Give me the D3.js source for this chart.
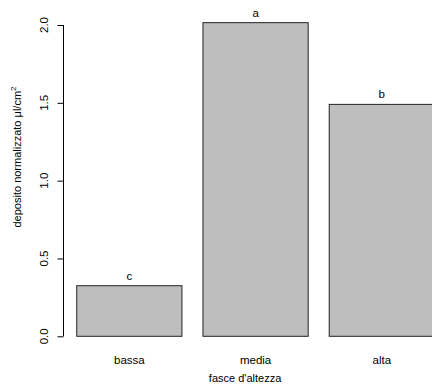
<!DOCTYPE html>
<html><head><meta charset="utf-8">
<script src="https://cdn.jsdelivr.net/npm/d3@7"></script>
<style>body{margin:0;background:#fff}svg{display:block}text{font-family:"Liberation Sans",Arial,sans-serif}</style>
</head><body>
<script>
const categories = ["bassa", "media", "alta"];
const values = [0.325, 2.015, 1.49];
const letters = ["c", "a", "b"];
const yTicks = [0, 0.5, 1.0, 1.5, 2.0];

const W = 432, H = 391;
const svg = d3.select("body").append("svg").attr("width", W).attr("height", H);

const y = d3.scale = d3.scaleLinear().domain([0, 2]).range([336.3, 25]);
// R barplot: width 1, space 0.2
const x = d3.scaleLinear().domain([0, 3.6]).range([55.7, 55.7 + 3.6 * 105.2]);

const g = svg.append("g");
g.selectAll("rect.bar").data(values).join("rect")
  .attr("class", "bar")
  .attr("x", (d, i) => x(0.2 + i * 1.2))
  .attr("width", (d, i) => x(1.2 + i * 1.2) - x(0.2 + i * 1.2))
  .attr("y", d => y(d))
  .attr("height", d => y(0) - y(d))
  .attr("fill", "#bebebe").attr("stroke", "#222").attr("stroke-width", 1);

g.selectAll("text.let").data(values).join("text")
  .attr("class", "let")
  .attr("x", (d, i) => x(0.7 + i * 1.2))
  .attr("y", d => y(d) - 6)
  .attr("text-anchor", "middle").attr("font-size", 11.5)
  .text((d, i) => letters[i]);

g.selectAll("text.cat").data(categories).join("text")
  .attr("class", "cat")
  .attr("x", (d, i) => x(0.7 + i * 1.2))
  .attr("y", 364)
  .attr("text-anchor", "middle").attr("font-size", 11.5)
  .text(d => d);

// y axis
const ax = svg.append("g").attr("transform", "translate(63.5,0)");
ax.call(d3.axisLeft(y).tickValues(yTicks).tickFormat(d3.format(".1f")).tickSize(6).tickPadding(0));
ax.select(".domain").attr("d", `M0,${y(0)}V${y(2)}`).attr("stroke", "#000");
ax.selectAll(".tick line").attr("stroke", "#000");
ax.selectAll(".tick text").remove();
yTicks.forEach(t => {
  svg.append("text")
    .attr("transform", `translate(48,${y(t)}) rotate(-90)`)
    .attr("text-anchor", "middle").attr("font-size", 11.5)
    .text(d3.format(".1f")(t));
});

svg.append("text")
  .attr("x", x(1.8)).attr("y", 382)
  .attr("text-anchor", "middle").attr("font-size", 11)
  .text("fasce d'altezza");

const yl = svg.append("text")
  .attr("transform", `translate(21,157) rotate(-90)`)
  .attr("text-anchor", "middle").attr("font-size", 11);
yl.append("tspan").text("deposito normalizzato ");
yl.append("tspan").text("μl/cm");
yl.append("tspan").attr("font-size", 8).attr("dy", -5).text("2");
</script>
</body></html>
